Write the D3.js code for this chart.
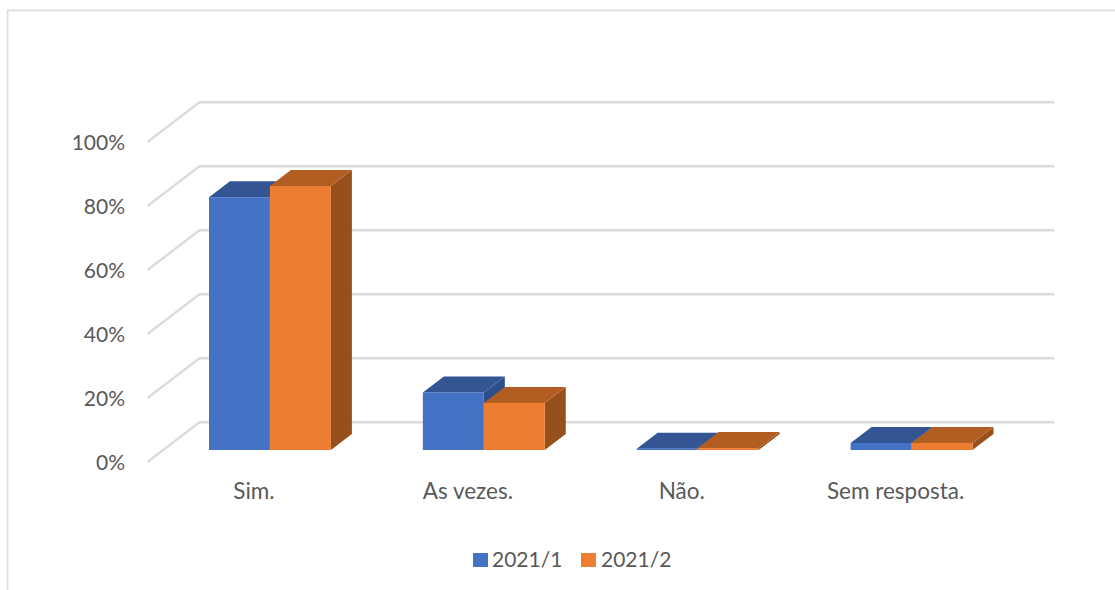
<!DOCTYPE html>
<html><head><meta charset="utf-8">
<script src="https://cdnjs.cloudflare.com/ajax/libs/d3/7.8.5/d3.min.js"></script>
<style>html,body{margin:0;padding:0;background:#fff}svg{display:block}text{font-family:Lato,sans-serif;fill:#595959}</style>
</head><body><svg id="c" width="1115" height="590"></svg>
<script>
const categories = ["Sim.", "As vezes.", "Não.", "Sem resposta."];
const seriesNames = ["2021/1", "2021/2"];
const values1 = [79, 18, 0.4, 2.2];
const values2 = [82.5, 14.7, 0.6, 2.2];
const yTicks = [0, 20, 40, 60, 80, 100];
const frontColors = ["#4472C4", "#ED7D31"];
const topColors = ["#335593", "#B25E22"];
const sideColors = ["#2D4F8C", "#97501C"];

const svg = d3.select("#c");
const fx0 = 147, fx1 = 1002.5, fy0 = 462, fy1 = 142;
const wallDx = 52, wallDy = -40, barDx = 21, barDy = -16;
const inset = 16, insetY = 12;

const y = d3.scaleLinear().domain([0, 100]).range([fy0, fy1]);
const xFront = d3.scaleBand().domain(categories).range([fx0, fx1]);
const xBars = d3.scaleBand().domain(categories).range([fx0 + inset, fx1 + inset]).paddingInner(0.43).paddingOuter(0.215);
const xSeries = d3.scaleBand().domain(seriesNames).range([0, xBars.bandwidth()]);

// chart frame
svg.append("path").attr("d", "M7.5 590V10.5H1115").attr("fill", "none").attr("stroke", "#dfdfdf").attr("stroke-width", 1.8);

// walls and floor grid
const grid = svg.append("g").attr("fill", "none").attr("stroke", "#dcdcdc").attr("stroke-width", 2.6);
yTicks.forEach(t => {
  const line = d3.line()([[fx0 + 0.5, y(t)], [fx0 + wallDx + 0.5, y(t) + wallDy + 0.3], [fx1 + wallDx, y(t) + wallDy + 0.3]]);
  grid.append("path").attr("d", line);
});

// value axis labels
const yAxis = svg.append("g").attr("transform", "translate(125,1)")
  .call(d3.axisLeft(y).tickValues(yTicks).tickSize(0).tickPadding(0).tickFormat(d => d + "%"));
yAxis.select(".domain").remove();
yAxis.selectAll("text").attr("font-family", "Lato").attr("font-size", 21).style("fill", "#595959");

// bars
const bars = svg.append("g");
[values1, values2].forEach((vals, s) => {
  categories.forEach((c, i) => {
    const x0 = xBars(c) + xSeries(seriesNames[s]);
    const x1 = x0 + xSeries.bandwidth();
    const yb = y(0) - insetY, yt = y(vals[i]) - insetY;
    const poly = pts => d3.line()(pts) + "Z";
    bars.append("path").attr("fill", sideColors[s])
      .attr("d", poly([[x1, yb], [x1 + barDx, yb + barDy], [x1 + barDx, yt + barDy], [x1, yt]]));
    bars.append("path").attr("fill", topColors[s])
      .attr("d", poly([[x0, yt], [x0 + barDx, yt + barDy], [x1 + barDx, yt + barDy], [x1, yt]]));
    bars.append("rect").attr("fill", frontColors[s])
      .attr("x", x0).attr("y", yt).attr("width", x1 - x0).attr("height", Math.max(yb - yt, 1));
  });
});

// category labels
const xAxis = svg.append("g").attr("transform", "translate(0,484)")
  .call(d3.axisBottom(xFront).tickSize(0).tickPadding(0));
xAxis.select(".domain").remove();
xAxis.selectAll("text").attr("font-family", "Lato").attr("font-size", 22.5).attr("dy", "0").attr("y", 15).style("fill", "#595959");

// legend
const legendX = [473, 581];
const legendTextX = [492, 601];
const legend = svg.append("g");
seriesNames.forEach((n, i) => {
  legend.append("rect").attr("x", legendX[i]).attr("y", 553).attr("width", 15).attr("height", 14).attr("fill", frontColors[i]);
  legend.append("text").attr("x", legendTextX[i]).attr("y", 567).attr("font-size", 21).text(n);
});
</script></body></html>
